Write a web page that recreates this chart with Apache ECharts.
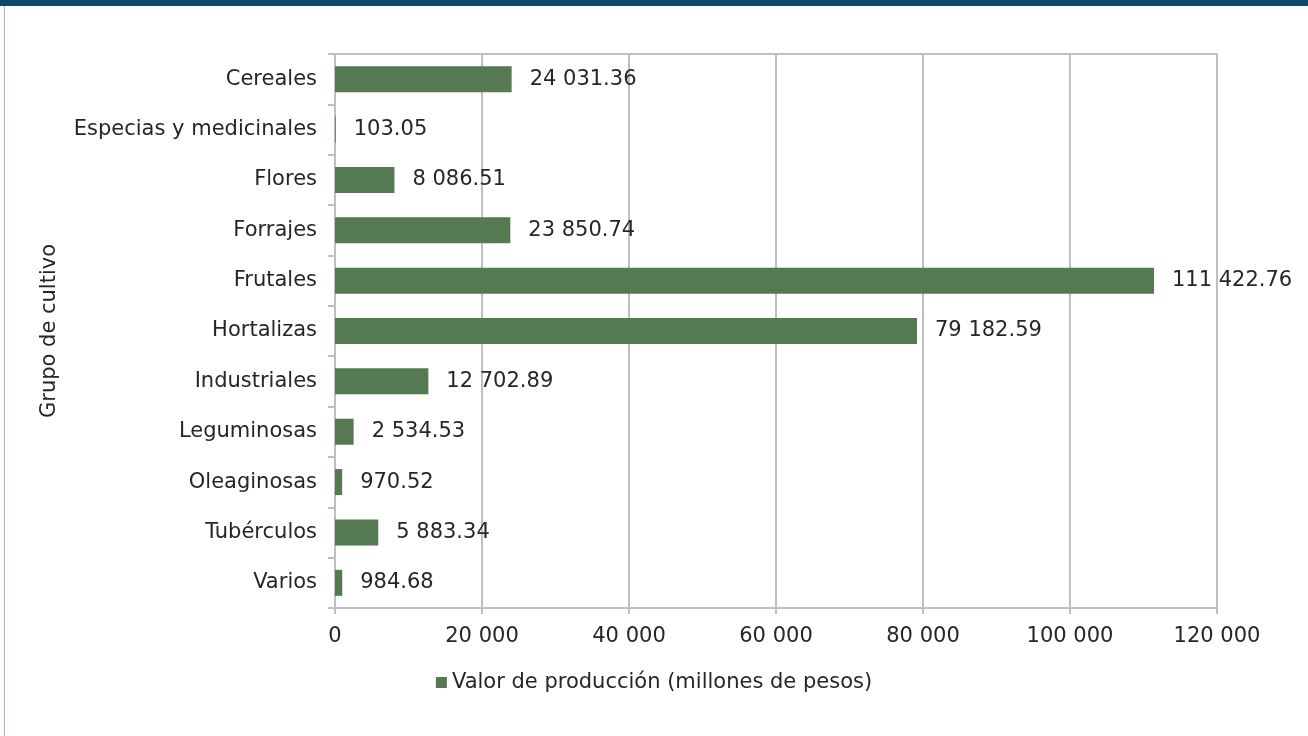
<!DOCTYPE html>
<html><head><meta charset="utf-8">
<script src="https://cdn.jsdelivr.net/npm/echarts@6/dist/echarts.min.js"></script>
<style>
html,body{margin:0;padding:0;background:#fff;}
#frame{position:absolute;left:0;top:0;width:1308px;height:736px;box-sizing:border-box;border-top:6px solid #0b4a6e;}
#line{position:absolute;left:4px;top:6px;width:1px;height:730px;background:#a9b6c8;}
#chart{position:absolute;left:0;top:0;width:1308px;height:736px;}
</style></head>
<body>
<div id="chart"></div>
<div id="frame"></div><div id="line"></div>
<script>
const categories = ["Cereales","Especias y medicinales","Flores","Forrajes","Frutales","Hortalizas","Industriales","Leguminosas","Oleaginosas","Tubérculos","Varios"];
const values = [24031.36,103.05,8086.51,23850.74,111422.76,79182.59,12702.89,2534.53,970.52,5883.34,984.68];
const seriesName = "Valor de producción (millones de pesos)";
const axisTitle = "Grupo de cultivo";

function fmt(v, dec){
  const s = v.toFixed(dec);
  const parts = s.split('.');
  const int = parts[0].replace(/\B(?=(\d{3})+(?!\d))/g, ' ');
  return parts.length > 1 ? int + '.' + parts[1] : int;
}
const FONT = "DejaVu Sans";
const FS = 21;
const TXT = '#262626';
const chart = echarts.init(document.getElementById('chart'));
chart.setOption({
  animation:false,
  textStyle:{fontFamily:FONT},
  grid:{left:335,right:91,top:54,bottom:128},
  legend:{
    bottom:38,left:'center',itemWidth:11,itemHeight:11,itemGap:5,
    icon:'rect',
    textStyle:{fontFamily:FONT,fontSize:FS,color:TXT},
    data:[seriesName]
  },
  xAxis:[{
    type:'value',min:0,max:120000,interval:20000,
    axisLine:{show:true,lineStyle:{color:'#bfbfbf',width:2}},
    axisTick:{show:true,length:6,lineStyle:{color:'#bfbfbf',width:2}},
    splitLine:{show:true,lineStyle:{color:'#bfbfbf',width:2}},
    axisLabel:{fontFamily:FONT,fontSize:FS,color:TXT,margin:18,formatter:v=>fmt(v,0)}
  },{
    type:'value',position:'top',min:0,max:120000,interval:20000,
    axisLine:{show:true,lineStyle:{color:'#bfbfbf',width:2}},
    axisTick:{show:false},axisLabel:{show:false},splitLine:{show:false}
  }],
  yAxis:{
    type:'category',inverse:true,data:categories,
    name:axisTitle,nameLocation:'middle',nameGap:275,nameRotate:90,
    nameTextStyle:{fontFamily:FONT,fontSize:FS,color:TXT},
    axisLine:{show:true,lineStyle:{color:'#bfbfbf',width:2}},
    axisTick:{show:true,length:7,lineStyle:{color:'#bfbfbf',width:2}},
    axisLabel:{fontFamily:FONT,fontSize:FS,color:TXT,margin:18}
  },
  series:[{
    name:seriesName,type:'bar',data:values,barWidth:26,
    itemStyle:{color:'#557a51'},
    label:{show:true,position:'right',distance:18,fontFamily:FONT,fontSize:FS,color:TXT,
      formatter:p=>fmt(p.value,2)}
  }]
});
</script>
</body></html>
